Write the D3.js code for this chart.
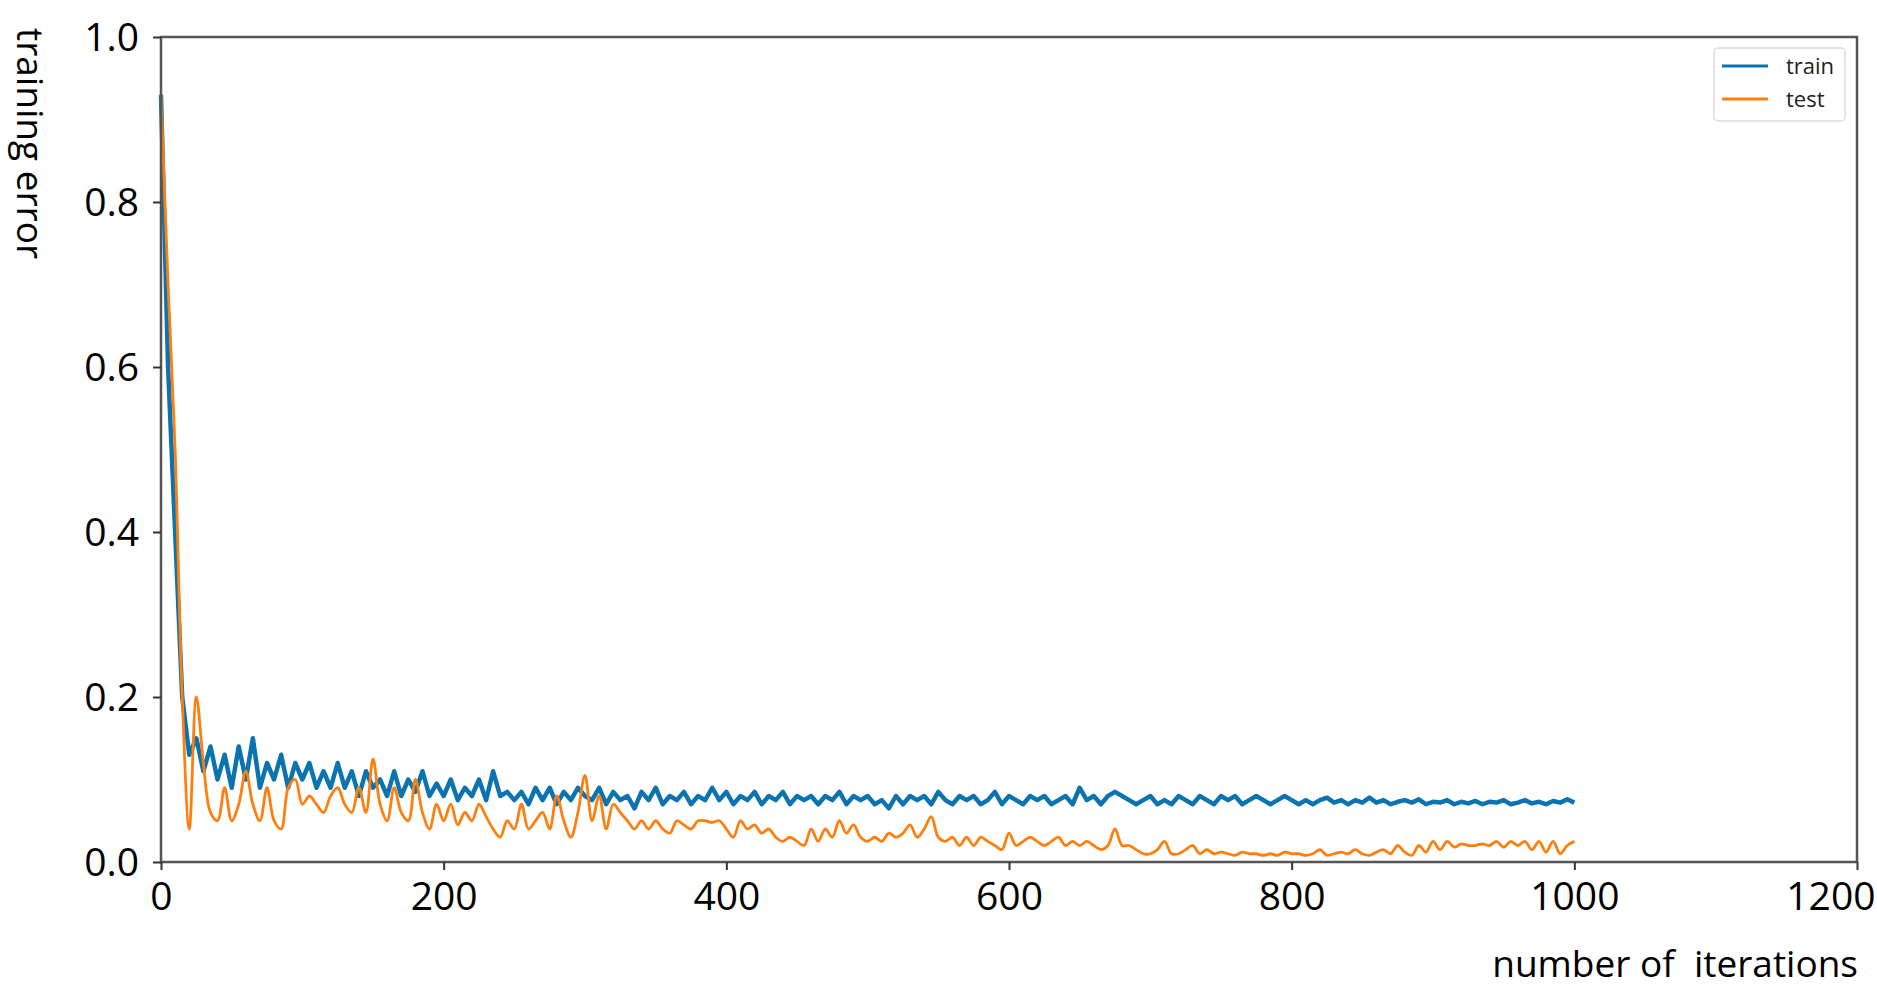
<!DOCTYPE html>
<html>
<head>
<meta charset="utf-8">
<script src="https://cdn.jsdelivr.net/npm/d3@7"></script>
<style>
  body { margin: 0; background: #fff; }
  text { font-family: "Open Sans", sans-serif; }
</style>
</head>
<body>
<svg id="chart" width="1877" height="1001"></svg>
<script>
var step = 5;
var trainVals = [0.93,0.6,0.4,0.2,0.13,0.15,0.11,0.14,0.10,0.13,0.09,0.14,0.10,0.15,0.09,0.12,0.10,0.13,0.09,0.12,
  0.10,0.12,0.09,0.11,0.09,0.12,0.09,0.11,0.08,0.11,0.09,0.10,0.08,0.11,0.08,0.10,0.085,0.11,0.08,0.095,
  0.08,0.10,0.075,0.09,0.08,0.10,0.075,0.11,0.08,0.085,0.075,0.085,0.07,0.09,0.075,0.09,0.07,0.085,0.075,0.09,
  0.08,0.075,0.09,0.07,0.085,0.075,0.08,0.065,0.085,0.075,0.09,0.07,0.08,0.075,0.085,0.07,0.08,0.075,0.09,0.075,
  0.085,0.07,0.08,0.075,0.085,0.07,0.08,0.075,0.085,0.07,0.08,0.075,0.08,0.07,0.08,0.075,0.085,0.07,0.08,0.075,
  0.08,0.07,0.075,0.065,0.08,0.07,0.08,0.075,0.08,0.07,0.085,0.075,0.07,0.08,0.075,0.08,0.07,0.075,0.085,0.07,
  0.08,0.075,0.07,0.08,0.075,0.08,0.07,0.075,0.08,0.07,0.09,0.075,0.08,0.07,0.08,0.085,0.08,0.075,0.07,0.075,
  0.08,0.07,0.075,0.07,0.08,0.075,0.07,0.08,0.075,0.07,0.08,0.075,0.08,0.07,0.075,0.08,0.075,0.07,0.075,0.08,
  0.075,0.07,0.075,0.07,0.075,0.078,0.072,0.075,0.07,0.075,0.072,0.078,0.072,0.075,0.07,0.073,0.075,0.072,0.076,0.07,
  0.073,0.072,0.075,0.07,0.073,0.071,0.074,0.07,0.073,0.072,0.075,0.07,0.072,0.075,0.071,0.073,0.07,0.074,0.072,0.076,
  0.072];
var testVals = [0.93,0.7,0.5,0.2,0.04,0.2,0.12,0.06,0.05,0.09,0.05,0.07,0.11,0.07,0.05,0.09,0.05,0.04,0.09,0.1,
  0.07,0.08,0.07,0.06,0.08,0.09,0.07,0.06,0.09,0.06,0.125,0.07,0.05,0.09,0.06,0.05,0.1,0.06,0.04,0.07,
  0.05,0.07,0.045,0.06,0.05,0.07,0.055,0.04,0.03,0.05,0.04,0.07,0.04,0.05,0.06,0.04,0.08,0.05,0.03,0.06,
  0.105,0.05,0.08,0.04,0.07,0.06,0.05,0.04,0.05,0.04,0.05,0.04,0.035,0.05,0.045,0.04,0.05,0.05,0.048,0.05,
  0.04,0.03,0.05,0.04,0.045,0.035,0.04,0.03,0.025,0.03,0.025,0.02,0.04,0.025,0.04,0.03,0.05,0.035,0.045,0.03,
  0.025,0.03,0.025,0.035,0.03,0.035,0.045,0.03,0.04,0.055,0.03,0.025,0.03,0.02,0.03,0.02,0.03,0.025,0.02,0.015,
  0.035,0.02,0.025,0.03,0.025,0.02,0.025,0.03,0.02,0.025,0.02,0.025,0.02,0.015,0.02,0.04,0.02,0.02,0.015,0.01,
  0.01,0.015,0.025,0.01,0.01,0.015,0.02,0.01,0.015,0.01,0.012,0.01,0.008,0.012,0.01,0.01,0.008,0.01,0.008,0.012,
  0.01,0.01,0.008,0.01,0.015,0.008,0.01,0.012,0.01,0.015,0.01,0.008,0.012,0.015,0.01,0.02,0.012,0.008,0.02,0.012,
  0.025,0.015,0.025,0.018,0.022,0.02,0.02,0.022,0.02,0.025,0.018,0.025,0.02,0.025,0.015,0.025,0.012,0.025,0.01,0.02,
  0.025];
var seriesNames = ["train", "test"];
var seriesColors = ["#0b74b0", "#ff7f0e"];
var xTicks = [0, 200, 400, 600, 800, 1000, 1200];
var yTicks = [0.0, 0.2, 0.4, 0.6, 0.8, 1.0];

var svg = d3.select('#chart');
var x = d3.scaleLinear().domain([0, 1200]).range([161, 1857]);
var y = d3.scaleLinear().domain([0, 1]).range([862, 37]);

var line = d3.line()
  .x(function (d, i) { return x(i * step); })
  .y(function (d) { return y(d); });

svg.append('path').datum(trainVals)
  .attr('d', line.curve(d3.curveLinear))
  .attr('fill', 'none').attr('stroke', seriesColors[0]).attr('stroke-width', 4.5)
  .attr('stroke-linejoin', 'round');
svg.append('path').datum(testVals)
  .attr('d', line.curve(d3.curveCatmullRom))
  .attr('fill', 'none').attr('stroke', seriesColors[1]).attr('stroke-width', 2.8);

// frame
svg.append('rect').attr('x', 161).attr('y', 37).attr('width', 1857 - 161).attr('height', 862 - 37)
  .attr('fill', 'none').attr('stroke', '#555').attr('stroke-width', 2.5);

var xAxis = svg.append('g').attr('transform', 'translate(0,862)')
  .call(d3.axisBottom(x).tickValues(xTicks).tickFormat(d3.format('d')).tickSize(8).tickPadding(12));
var yAxis = svg.append('g').attr('transform', 'translate(161,0)')
  .call(d3.axisLeft(y).tickValues(yTicks).tickFormat(d3.format('.1f')).tickSize(8).tickPadding(14));
[xAxis, yAxis].forEach(function (a) {
  a.select('.domain').remove();
  a.selectAll('line').attr('stroke', '#333').attr('stroke-width', 2);
  a.selectAll('text').attr('font-size', 39).attr('fill', '#000')
    .style('font-family', '"Open Sans", sans-serif');
});
yAxis.selectAll('text').attr('dy', '0.35em');
// last x label sits left of its tick, as in the original
xAxis.selectAll('.tick').filter(function (d) { return d === 1200; })
  .select('text').attr('text-anchor', 'end').attr('dx', 18);

svg.append('text').attr('transform', 'translate(30,28) rotate(90)')
  .attr('font-size', 37).attr('text-anchor', 'start').attr('dy', '0.35em')
  .text('training error');
svg.append('text').attr('x', 1858).attr('y', 977)
  .attr('font-size', 37).attr('text-anchor', 'end')
  .style('white-space', 'pre')
  .text('number of\u00a0\u00a0iterations');

// legend
var lg = svg.append('g').attr('transform', 'translate(1714,48)');
lg.append('rect').attr('width', 131).attr('height', 73).attr('rx', 4)
  .attr('fill', '#fff').attr('stroke', '#ddd').attr('stroke-width', 1.5);
seriesNames.forEach(function (name, i) {
  var ly = 18 + i * 33;
  lg.append('line').attr('x1', 8).attr('x2', 54).attr('y1', ly).attr('y2', ly)
    .attr('stroke', seriesColors[i]).attr('stroke-width', 3);
  lg.append('text').attr('x', 72).attr('y', ly).attr('dy', '0.35em')
    .attr('font-size', 22).attr('fill', '#222').text(name);
});
</script>
</body>
</html>
